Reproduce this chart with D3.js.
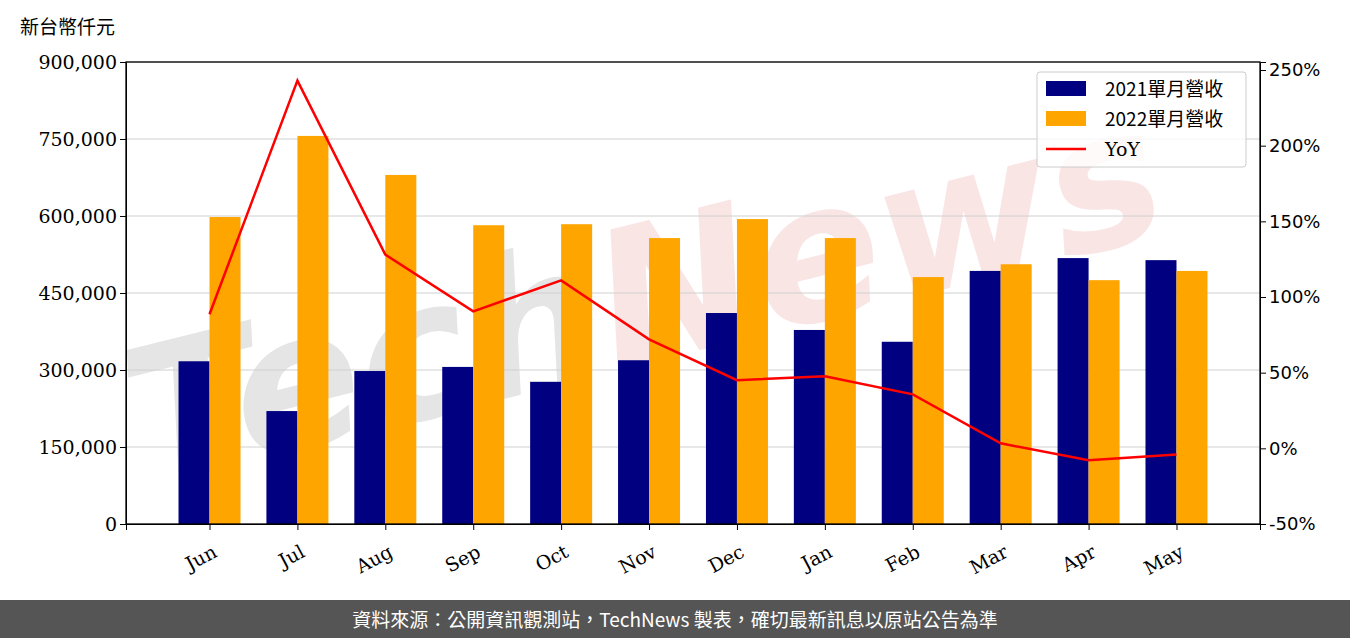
<!DOCTYPE html>
<html><head><meta charset="utf-8">
<script src="https://cdn.jsdelivr.net/npm/d3@7"></script>
<style>body{margin:0;background:#fff}svg{display:block}</style>
</head><body><svg id="c"></svg>
<script>
const months = ["Jun","Jul","Aug","Sep","Oct","Nov","Dec","Jan","Feb","Mar","Apr","May"];
const rev2021 = [317000,220000,298000,306000,277000,319000,411000,378000,355000,493000,518000,514000];
const rev2022 = [598000,756000,680000,582000,584000,557000,594000,557000,481000,506000,475000,493000];
const yoy = [88.6,243,128,90.5,111,72,45,47.6,35.7,3.3,-7.9,-4];
const leftTicks = [0,150000,300000,450000,600000,750000,900000];
const rightTicks = [-50,0,50,100,150,200,250];

const W = 1350, H = 638;
const pL = 126, pR = 1260, pT = 62, pB = 524;
const svg = d3.select("#c").attr("width", W).attr("height", H);
const serif = "'DejaVu Serif', serif";
const cjk = "'Noto Sans CJK TC', sans-serif";

// watermark
const wm = svg.append("text").attr("transform", "translate(660,360) rotate(-14)")
  .attr("text-anchor", "middle")
  .attr("font-family", "'DejaVu Sans', sans-serif").attr("font-weight", "bold")
  .attr("font-size", 190).attr("font-style", "italic").attr("opacity", 0.55);
wm.append("tspan").attr("fill", "#d0d0d0").text("Tech");
wm.append("tspan").attr("fill", "#f6d0d0").text("News");

const x = d3.scalePoint().domain(months).range([pL, pR]).padding(0.95);
const y = d3.scaleLinear().domain([0, 900000]).range([pB, pT]);
const y2 = d3.scaleLinear().domain([-50, 255.3]).range([pB, pT]);
const bw = 31;

// grid
svg.append("g").selectAll("line").data(leftTicks.slice(1)).enter().append("line")
  .attr("x1", pL).attr("x2", pR).attr("y1", d => y(d)).attr("y2", d => y(d))
  .attr("stroke", "#d0d0d0").attr("stroke-width", 1);

// bars
svg.append("g").selectAll("rect").data(rev2021).enter().append("rect")
  .attr("x", (d, i) => x(months[i]) - bw).attr("y", d => y(d))
  .attr("width", bw).attr("height", d => pB - y(d)).attr("fill", "#000080");
svg.append("g").selectAll("rect").data(rev2022).enter().append("rect")
  .attr("x", (d, i) => x(months[i])).attr("y", d => y(d))
  .attr("width", bw).attr("height", d => pB - y(d)).attr("fill", "#ffa500");

// yoy line
svg.append("path").datum(yoy)
  .attr("d", d3.line().x((d, i) => x(months[i])).y(d => y2(d)))
  .attr("fill", "none").attr("stroke", "red").attr("stroke-width", 2.5);

// axes
const gl = svg.append("g").attr("transform", `translate(${pL},0)`)
  .call(d3.axisLeft(y).tickValues(leftTicks).tickFormat(d3.format(",")).tickSizeOuter(0).tickSize(6));
const gr = svg.append("g").attr("transform", `translate(${pR},0)`)
  .call(d3.axisRight(y2).tickValues(rightTicks).tickFormat(d => d + "%").tickSizeOuter(0).tickSize(6));
const gx = svg.append("g").attr("transform", `translate(0,${pB})`)
  .call(d3.axisBottom(x).tickSizeOuter(0).tickSize(6));
[gl, gr, gx].forEach(g => {
  g.selectAll("text").attr("font-family", serif).attr("font-size", 19).attr("fill", "#000");
  g.selectAll("line,path").attr("stroke", "#000");
});
gl.selectAll("text").attr("dy", "0.35em");
gr.selectAll("text").attr("font-family", "'DejaVu Sans', sans-serif").attr("font-size", 18);
gx.selectAll("text").attr("text-anchor", "end").attr("dy", 0)
  .attr("transform", "translate(4,24) rotate(-28)");
svg.append("rect").attr("x", pL).attr("y", pT).attr("width", pR - pL).attr("height", pB - pT)
  .attr("fill", "none").attr("stroke", "#000").attr("stroke-width", 1.3);

// unit
svg.append("text").attr("x", 20).attr("y", 34).attr("font-family", cjk).attr("font-size", 19).text("新台幣仟元");

// legend
const lg = svg.append("g").attr("transform", "translate(1037,72)");
lg.append("rect").attr("width", 209).attr("height", 95).attr("rx", 3)
  .attr("fill", "rgba(255,255,255,0.8)").attr("stroke", "#ccc");
const items = [["2021單月營收", "#000080", "rect"], ["2022單月營收", "#ffa500", "rect"], ["YoY", "red", "line"]];
items.forEach((it, i) => {
  const cy = 17 + i * 30;
  if (it[2] === "rect") lg.append("rect").attr("x", 9).attr("y", cy - 8).attr("width", 40).attr("height", 15).attr("fill", it[1]);
  else lg.append("line").attr("x1", 9).attr("x2", 49).attr("y1", cy).attr("y2", cy).attr("stroke", it[1]).attr("stroke-width", 2.5);
  lg.append("text").attr("x", 68).attr("y", cy + 7)
    .attr("font-family", i === 2 ? serif : cjk).attr("font-size", 19).text(it[0]);
});

// footer
svg.append("rect").attr("x", 0).attr("y", 600).attr("width", W).attr("height", 38).attr("fill", "#555");
svg.append("text").attr("x", W / 2).attr("y", 627).attr("text-anchor", "middle")
  .attr("font-family", cjk).attr("font-size", 19).attr("fill", "#fff")
  .text("資料來源：公開資訊觀測站，TechNews 製表，確切最新訊息以原站公告為準");
</script></body></html>
